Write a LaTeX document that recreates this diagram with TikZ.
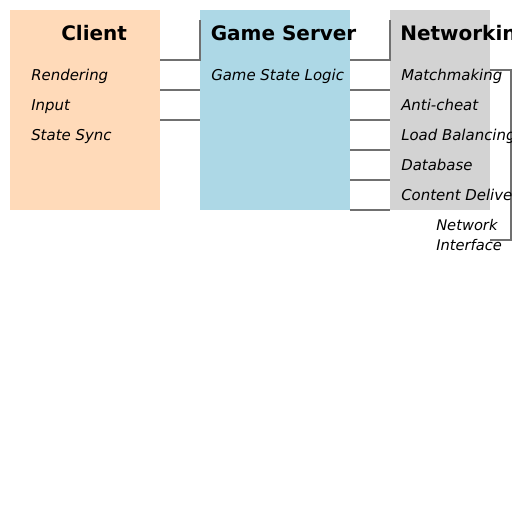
\documentclass[tikz,border=0pt]{standalone}
\usepackage{fontspec}
\setmainfont{DejaVu Sans}
\definecolor{peach}{HTML}{FFDAB9}
\definecolor{lblue}{HTML}{ADD8E6}
\definecolor{lgray}{HTML}{D3D3D3}
\definecolor{wirec}{HTML}{707070}
\tikzset{
  box/.style={rectangle, inner sep=0pt, outer sep=0pt, minimum height=150pt, anchor=north west},
  titletext/.style={font=\fontsize{15}{18}\selectfont\bfseries, anchor=base west, inner sep=0pt},
  itemtext/.style={font=\fontsize{11.2}{13}\selectfont\itshape, anchor=base west, inner sep=0pt},
  notetext/.style={font=\fontsize{11}{13}\selectfont\itshape, anchor=base west, inner sep=0pt},
  wire/.style={draw=wirec, line width=1.2pt}
}
\begin{document}
\begin{tikzpicture}[x=0.75pt,y=-0.75pt]
\fill[white] (0,0) rectangle (512,512);
\useasboundingbox (0,0) rectangle (512,512);
% boxes
\node[box, fill=peach, minimum width=112.5pt] (client) at (10,10) {};
\node[box, fill=lblue, minimum width=112.5pt] (server) at (200,10) {};
\node[box, fill=lgray, minimum width=75pt] (net) at (390,10) {};
% row references
\coordinate (r20) at (0,20);
\coordinate (r60) at (0,60);
\coordinate (r70) at (0,70);
\coordinate (r90) at (0,90);
\coordinate (r120) at (0,120);
\coordinate (r150) at (0,150);
\coordinate (r180) at (0,180);
\coordinate (r210) at (0,210);
\coordinate (r240) at (0,240);
\coordinate (edge) at (511,0);
% connectors client -> server
\draw[wire] (client.east |- r60) -- (server.west |- r60) -- (server.west |- r20);
\draw[wire] (client.east |- r90) -- (server.west |- r90);
\draw[wire] (client.east |- r120) -- (server.west |- r120);
% connectors server -> networking
\draw[wire] (server.east |- r60) -- (net.west |- r60) -- (net.west |- r20);
\draw[wire] (server.east |- r90) -- (net.west |- r90);
\draw[wire] (server.east |- r120) -- (net.west |- r120);
\draw[wire] (server.east |- r150) -- (net.west |- r150);
\draw[wire] (server.east |- r180) -- (net.west |- r180);
\draw[wire] (server.east |- r210) -- (net.west |- r210);
% bracket to network interface
\draw[wire] (net.east |- r70) -- (edge |- r70) -- (edge |- r240) -- (net.east |- r240);
% titles
\node[titletext] (tclient) at (61,40) {Client};
\node[titletext] (tserver) at (210.5,40) {Game Server};
\node[titletext] (tnet) at (400,40) {Networking};
% items
\node[itemtext] (rend) at (31,80) {Rendering};
\node[itemtext] (inp) at (31,110) {Input};
\node[itemtext] (sync) at (31,140) {State Sync};
\node[itemtext] (gsl) at (211,80) {Game State Logic};
\node[itemtext] (mm) at (401,80) {Matchmaking};
\node[itemtext] (ac) at (401,110) {Anti-cheat};
\node[itemtext] (lb) at (401,140) {Load Balancing};
\node[itemtext] (db) at (401,170) {Database};
\node[itemtext] (cd) at (401,200) {Content Delivery};
\node[notetext] (ni1) at (436,230) {Network};
\node[notetext] (ni2) at (436,250) {Interface};
\end{tikzpicture}
\end{document}
